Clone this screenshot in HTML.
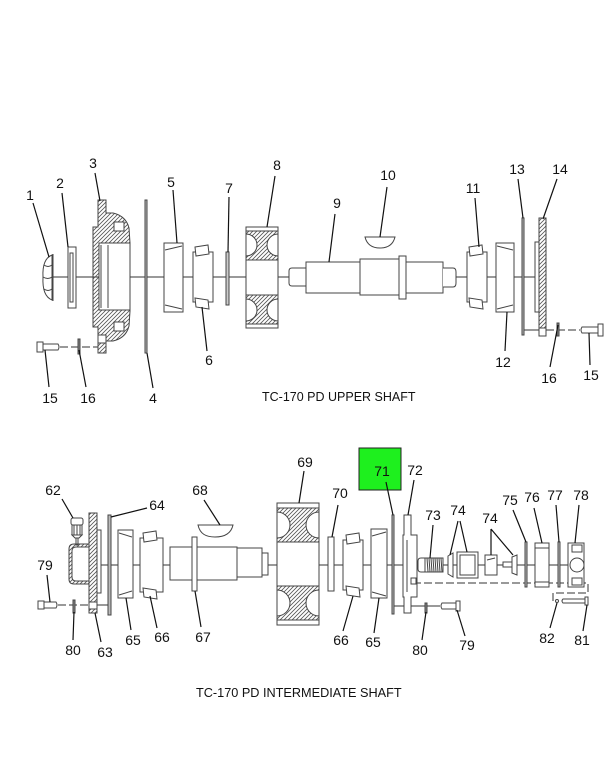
<!DOCTYPE html>
<html>
<head>
<meta charset="utf-8">
<style>
html,body{margin:0;padding:0;background:#fff;}
svg{display:block;}
text{font-family:"Liberation Sans",Arial,sans-serif;fill:#111;}
</style>
</head>
<body>
<svg width="610" height="761" viewBox="0 0 610 761" xmlns="http://www.w3.org/2000/svg">
<defs>
<pattern id="h" patternUnits="userSpaceOnUse" width="4" height="4">
<path d="M0,4 L4,0 M-1,1 L1,-1 M3,5 L5,3" stroke="#555" stroke-width="0.8"/>
</pattern>
<clipPath id="g8"><rect x="246" y="227" width="32" height="101"/></clipPath>
<clipPath id="g69"><rect x="277" y="503" width="42" height="122"/></clipPath>
</defs>
<rect width="610" height="761" fill="#fff"/>

<g fill="none" stroke="#333" stroke-width="1">
<!-- ============ UPPER SHAFT ============ -->
<line x1="53" y1="277" x2="536" y2="277"/>
<!-- dashed bolt lines -->
<line x1="60" y1="347" x2="98" y2="347" stroke-dasharray="8,3"/>
<line x1="546" y1="330" x2="580" y2="330" stroke-dasharray="8,3"/>
<line x1="524" y1="330" x2="539" y2="330"/>
</g>

<g stroke="#444" stroke-width="1" fill="#fff">
<!-- part 1 cap -->
<path d="M52,255 Q42,259 43,277 Q42,296 52,300 Z"/>
<path d="M44,265 Q48,268 52,265 M43,277 Q48,280 52,277 M44,289 Q48,292 52,289" fill="none"/>
<line x1="53" y1="254" x2="53" y2="301"/>
<!-- part 2 -->
<rect x="68" y="247" width="8" height="61"/>
<rect x="70" y="253" width="3" height="49"/>
<!-- part 3 housing -->
<path d="M98,200 L106,200 L106,213 L113,213 Q126,216 129,228 L130,243 L130,311 L129,326 Q126,338 113,341 L106,341 L106,353 L98,353 L98,327 L93,327 L93,227 L98,227 Z" fill="url(#h)"/>
<rect x="99" y="243" width="31" height="67"/>
<line x1="101" y1="245" x2="101" y2="308"/>
<line x1="108" y1="245" x2="108" y2="308"/>
<rect x="114" y="222" width="10" height="9"/>
<rect x="114" y="322" width="10" height="9"/>
<rect x="98" y="335" width="8" height="8"/>
<!-- part 4 plate -->
<rect x="145" y="200" width="2" height="153" fill="#bbb"/>
<!-- bolt 15 left -->
<rect x="37" y="342" width="6" height="10"/>
<path d="M43,344 L58,344 Q60,347 58,350 L43,350 Z"/>
<!-- washer 16 left -->
<rect x="78" y="339" width="2" height="15" fill="#888"/>
<!-- part 5 cup -->
<rect x="164" y="243" width="19" height="69"/>
<line x1="165" y1="250" x2="182" y2="246"/>
<line x1="165" y1="305" x2="182" y2="309"/>
<!-- part 6 cone -->
<rect x="193" y="252" width="20" height="50"/>
<path d="M195,247 L208,245 L209,254 L196,256 Z"/>
<path d="M195,298 L208,300 L209,309 L196,307 Z"/>
<!-- part 7 -->
<rect x="226" y="252" width="3" height="53" fill="#ccc"/>
<!-- part 8 gear -->
<rect x="246" y="227" width="32" height="101"/>
<rect x="246" y="231" width="32" height="29" fill="url(#h)"/>
<rect x="246" y="295" width="32" height="29" fill="url(#h)"/>
<g clip-path="url(#g8)">
<circle cx="246" cy="245" r="11"/><circle cx="278" cy="245" r="11"/>
<circle cx="246" cy="310" r="11"/><circle cx="278" cy="310" r="11"/>
</g>
<rect x="246" y="227" width="32" height="101" fill="none"/>
<line x1="246" y1="260" x2="278" y2="260"/>
<line x1="246" y1="295" x2="278" y2="295"/>
<!-- shaft 9 -->
<path d="M306,268 L292,268 Q289,268 289,271 L289,283 Q289,286 292,286 L306,286"/>
<rect x="306" y="262" width="54" height="31"/>
<rect x="360" y="259" width="40" height="36"/>
<rect x="399" y="256" width="7" height="43"/>
<rect x="406" y="262" width="37" height="31"/>
<path d="M443,268 L453,268 Q456,268 456,272 L456,283 Q456,287 453,287 L443,287"/>
<!-- key 10 -->
<path d="M365,237 L395,237 C393,245 387,248 380,248 C373,248 367,245 365,237 Z"/>
<!-- part 11 cone -->
<rect x="467" y="252" width="20" height="50"/>
<path d="M469,247 L482,245 L483,254 L470,256 Z"/>
<path d="M469,298 L482,300 L483,309 L470,307 Z"/>
<!-- part 12 cup -->
<rect x="496" y="243" width="18" height="69"/>
<line x1="497" y1="246" x2="513" y2="250"/>
<line x1="497" y1="309" x2="513" y2="305"/>
<!-- part 13 -->
<rect x="522" y="218" width="2" height="117" fill="#bbb"/>
<!-- part 14 cover -->
<rect x="535" y="242" width="4" height="70"/>
<rect x="539" y="218" width="7" height="112" fill="url(#h)"/>
<rect x="539" y="328" width="7" height="8"/>
<!-- washer 16 right -->
<rect x="557" y="323" width="2" height="13" fill="#888"/>
<!-- bolt 15 right -->
<path d="M598,327 L582,327 Q580,330 582,333 L598,333 Z"/>
<rect x="598" y="324" width="5" height="12"/>
</g>

<!-- upper leaders -->
<g stroke="#111" stroke-width="1.2" fill="none">
<line x1="33" y1="203" x2="49" y2="257"/>
<line x1="62" y1="193" x2="68" y2="247"/>
<line x1="95" y1="173" x2="100" y2="201"/>
<line x1="153" y1="388" x2="147" y2="353"/>
<line x1="173" y1="190" x2="177" y2="243"/>
<line x1="207" y1="351" x2="202" y2="307"/>
<line x1="229" y1="197" x2="228" y2="252"/>
<line x1="275" y1="176" x2="267" y2="227"/>
<line x1="335" y1="214" x2="329" y2="262"/>
<line x1="387" y1="187" x2="380" y2="237"/>
<line x1="475" y1="198" x2="479" y2="247"/>
<line x1="505" y1="351" x2="507" y2="312"/>
<line x1="518" y1="179" x2="523" y2="218"/>
<line x1="557" y1="179" x2="543" y2="219"/>
<line x1="49" y1="387" x2="45" y2="350"/>
<line x1="86" y1="387" x2="79" y2="350"/>
<line x1="550" y1="367" x2="558" y2="325"/>
<line x1="590" y1="365" x2="589" y2="333"/>
</g>

<g font-size="14" text-anchor="middle">
<text x="30" y="200">1</text>
<text x="60" y="188">2</text>
<text x="93" y="168">3</text>
<text x="153" y="403">4</text>
<text x="171" y="187">5</text>
<text x="209" y="365">6</text>
<text x="229" y="193">7</text>
<text x="277" y="170">8</text>
<text x="337" y="208">9</text>
<text x="388" y="180">10</text>
<text x="473" y="193">11</text>
<text x="503" y="367">12</text>
<text x="517" y="174">13</text>
<text x="560" y="174">14</text>
<text x="50" y="403">15</text>
<text x="88" y="403">16</text>
<text x="549" y="383">16</text>
<text x="591" y="380">15</text>
</g>
<text x="262" y="401" font-size="12.5">TC-170 PD UPPER SHAFT</text>

<!-- ============ LOWER SHAFT ============ -->
<g fill="none" stroke="#333" stroke-width="1">
<line x1="101" y1="565" x2="576" y2="565"/>
<line x1="58" y1="605" x2="89" y2="605" stroke-dasharray="8,3"/>
<line x1="97" y1="605" x2="108" y2="605"/>
<line x1="394" y1="606" x2="440" y2="606"/>
<path d="M413,583 L588,583 L588,593 L553,593 L553,602" stroke-dasharray="8,3"/>
</g>

<g stroke="#444" stroke-width="1" fill="#fff">
<!-- 62 fitting -->
<rect x="71" y="518" width="12" height="7" rx="2"/>
<rect x="72" y="525" width="10" height="10"/>
<path d="M74,525 L74,535 M77,525 L77,535 M80,525 L80,535" fill="none"/>
<path d="M72,535 L82,535 L79,538 L75,538 Z"/>
<rect x="76" y="538" width="2" height="7"/>
<!-- 63 housing -->
<path d="M89,544 L74,544 Q69,544 69,549 L69,579 Q69,584 74,584 L89,584 Z" fill="url(#h)"/>
<path d="M89,547 L76,547 Q72,547 72,551 L72,577 Q72,581 76,581 L89,581 Z"/>
<rect x="89" y="513" width="8" height="100" fill="url(#h)"/>
<rect x="89" y="602" width="8" height="7"/>
<rect x="97" y="530" width="4" height="63"/>
<!-- 64 plate -->
<rect x="108" y="515" width="3" height="100" fill="#bbb"/>
<!-- bolt 79 left -->
<rect x="38" y="601" width="6" height="8"/>
<path d="M44,602 L56,602 Q58,605 56,608 L44,608 Z"/>
<!-- washer 80 left -->
<rect x="73" y="600" width="2" height="13" fill="#888"/>
<!-- 65 left cup -->
<rect x="118" y="530" width="15" height="68"/>
<line x1="119" y1="533" x2="132" y2="537"/>
<line x1="119" y1="595" x2="132" y2="591"/>
<!-- 66 left cone -->
<rect x="140" y="538" width="23" height="54"/>
<path d="M143,533 L156,531 L157,540 L144,542 Z"/>
<path d="M143,588 L156,590 L157,599 L144,597 Z"/>
<!-- 67 shaft -->
<rect x="170" y="547" width="67" height="33"/>
<rect x="192" y="537" width="5" height="54"/>
<rect x="237" y="548" width="25" height="29"/>
<rect x="262" y="553" width="6" height="22"/>
<!-- 68 key -->
<path d="M198,525 L233,525 C231,534 224,537 215,537 C206,537 200,534 198,525 Z"/>
<!-- 69 gear -->
<rect x="277" y="503" width="42" height="122"/>
<rect x="277" y="508" width="42" height="34" fill="url(#h)"/>
<rect x="277" y="586" width="42" height="34" fill="url(#h)"/>
<g clip-path="url(#g69)">
<circle cx="277" cy="525" r="13"/><circle cx="319" cy="525" r="13"/>
<circle cx="277" cy="603" r="13"/><circle cx="319" cy="603" r="13"/>
</g>
<rect x="277" y="503" width="42" height="122" fill="none"/>
<line x1="277" y1="542" x2="319" y2="542"/>
<line x1="277" y1="586" x2="319" y2="586"/>
<!-- 70 washer -->
<rect x="328" y="537" width="6" height="54"/>
<!-- 66 right cone -->
<rect x="343" y="540" width="20" height="50"/>
<path d="M346,535 L359,533 L360,542 L347,544 Z"/>
<path d="M346,586 L359,588 L360,597 L347,595 Z"/>
<!-- 65 right cup -->
<rect x="371" y="529" width="16" height="69"/>
<line x1="372" y1="536" x2="386" y2="532"/>
<line x1="372" y1="592" x2="386" y2="596"/>
<!-- 71 plate -->
<rect x="392" y="515" width="2" height="99" fill="#bbb"/>
<!-- 72 housing -->
<path d="M404,515 L411,515 L411,535 L417,535 L417,597 L411,597 L411,613 L404,613 L404,597 L403,597 L403,535 L404,535 Z"/>
<line x1="407" y1="540" x2="407" y2="592"/>
<rect x="411" y="578" width="5" height="6"/>
<!-- 73 spring -->
<path d="M425,558 L421,558 Q418,558 418,561 L418,569 Q418,572 421,572 L425,572"/>
<rect x="425" y="558" width="18" height="14"/>
<path d="M427,558 L428,572 M429,558 L430,572 M431,558 L432,572 M433,558 L434,572 M435,558 L436,572 M437,558 L438,572 M439,558 L440,572 M441,558 L442,572" fill="none"/>
<!-- 74a -->
<path d="M448,556 L453,553 L453,577 L448,574 Z"/>
<rect x="457" y="552" width="21" height="26"/>
<rect x="460" y="555" width="15" height="20"/>
<!-- 74b -->
<rect x="485" y="555" width="12" height="20"/>
<line x1="487" y1="560" x2="495" y2="558"/>
<rect x="503" y="562" width="9" height="5"/>
<path d="M512,557 L517,555 L517,575 L512,573 Z"/>
<!-- 75 -->
<rect x="525" y="542" width="2" height="45" fill="#bbb"/>
<!-- 76 -->
<rect x="535" y="543" width="14" height="44"/>
<line x1="535" y1="548" x2="549" y2="548"/>
<line x1="535" y1="582" x2="549" y2="582"/>
<!-- 77 -->
<rect x="558" y="542" width="2" height="45" fill="#bbb"/>
<!-- 78 -->
<rect x="568" y="543" width="16" height="44"/>
<circle cx="577" cy="565" r="7"/>
<rect x="572" y="545" width="10" height="7"/>
<rect x="572" y="578" width="10" height="7"/>
<!-- washer 80 right -->
<rect x="425" y="603" width="2" height="10" fill="#888"/>
<!-- bolt 79 right -->
<path d="M456,603 L442,603 Q440,606 442,609 L456,609 Z"/>
<rect x="456" y="601" width="4" height="10"/>
<!-- 82 -->
<circle cx="557" cy="601" r="1.5"/>
<!-- 81 bolt -->
<path d="M585,599 L563,599 Q561,601 563,603 L585,603 Z"/>
<rect x="585" y="597" width="3" height="8"/>
</g>

<!-- green callout box -->
<rect x="359" y="448" width="42" height="42" fill="#1ef01e" stroke="#222" stroke-width="1"/>

<!-- lower leaders -->
<g stroke="#111" stroke-width="1.2" fill="none">
<line x1="62" y1="499" x2="73" y2="518"/>
<line x1="147" y1="508" x2="111" y2="517"/>
<line x1="204" y1="500" x2="220" y2="525"/>
<line x1="304" y1="471" x2="299" y2="503"/>
<line x1="338" y1="505" x2="332" y2="537"/>
<line x1="386" y1="482" x2="393" y2="515"/>
<line x1="414" y1="480" x2="408" y2="515"/>
<line x1="433" y1="525" x2="430" y2="558"/>
<path d="M458,521 L450,555 M460,521 L467,552"/>
<path d="M491,529 L491,555 M491,529 L513,555"/>
<line x1="513" y1="510" x2="526" y2="542"/>
<line x1="534" y1="508" x2="542" y2="543"/>
<line x1="556" y1="505" x2="559" y2="542"/>
<line x1="579" y1="505" x2="575" y2="543"/>
<line x1="47" y1="575" x2="50" y2="602"/>
<line x1="73" y1="640" x2="74" y2="612"/>
<line x1="101" y1="642" x2="95" y2="613"/>
<line x1="131" y1="630" x2="126" y2="598"/>
<line x1="157" y1="628" x2="150" y2="596"/>
<line x1="201" y1="627" x2="195" y2="591"/>
<line x1="343" y1="631" x2="353" y2="596"/>
<line x1="374" y1="633" x2="379" y2="598"/>
<line x1="422" y1="640" x2="426" y2="612"/>
<line x1="465" y1="636" x2="457" y2="610"/>
<line x1="550" y1="628" x2="557" y2="603"/>
<line x1="583" y1="631" x2="587" y2="605"/>
</g>

<g font-size="14" text-anchor="middle">
<text x="53" y="495">62</text>
<text x="157" y="510">64</text>
<text x="200" y="495">68</text>
<text x="305" y="467">69</text>
<text x="340" y="498">70</text>
<text x="382" y="476" fill="#2a4a2a">71</text>
<text x="415" y="475">72</text>
<text x="433" y="520">73</text>
<text x="458" y="515">74</text>
<text x="490" y="523">74</text>
<text x="510" y="505">75</text>
<text x="532" y="502">76</text>
<text x="555" y="500">77</text>
<text x="581" y="500">78</text>
<text x="45" y="570">79</text>
<text x="73" y="655">80</text>
<text x="105" y="657">63</text>
<text x="133" y="645">65</text>
<text x="162" y="642">66</text>
<text x="203" y="642">67</text>
<text x="341" y="645">66</text>
<text x="373" y="647">65</text>
<text x="420" y="655">80</text>
<text x="467" y="650">79</text>
<text x="547" y="643">82</text>
<text x="582" y="645">81</text>
</g>
<text x="196" y="697" font-size="12.7">TC-170 PD INTERMEDIATE SHAFT</text>
</svg>
</body>
</html>
